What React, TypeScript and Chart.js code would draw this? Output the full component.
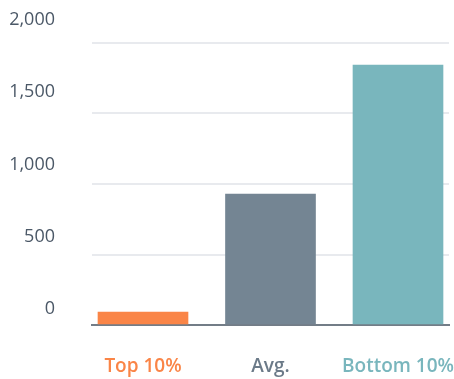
import React, { useEffect, useRef } from "react";
import { Chart, registerables } from "chart.js";

Chart.register(...registerables);

const categories = ["Top 10%", "Avg.", "Bottom 10%"];
const values = [92, 929, 1844];
const barColors = ["#fa8547", "#748593", "#79b6bd"];
const labelColors = ["#fa8547", "#6b7a88", "#79b6bd"];
const yTickValues = [0, 500, 1000, 1500, 2000];

const X_MIN = -0.4;
const X_MAX = 2.4;
const Y_MAX = (315 * 2000) / 282;
const Y2_MIN = -(16 * 2000) / 289;
const Y2_MAX = (299 * 2000) / 289;

export default function App() {
  const ref = useRef<HTMLCanvasElement | null>(null);
  useEffect(() => {
    if (!ref.current) return;
    const chart = new Chart(ref.current, {
      type: "bar",
      data: {
        datasets: [
          {
            data: values.map((v, i) => ({ x: i, y: v })),
            backgroundColor: barColors,
            borderWidth: 0,
            barThickness: 90,
            yAxisID: "y",
          },
        ],
      },
      options: {
        animation: false,
        responsive: false,
        maintainAspectRatio: false,
        layout: { padding: { top: 10, right: 5, bottom: 0, left: 0 } },
        plugins: { legend: { display: false }, tooltip: { enabled: false } },
        scales: {
          x: {
            type: "linear",
            offset: false,
            bounds: "data",
            min: X_MIN,
            max: X_MAX,
            grid: { display: false, drawTicks: false, offset: false },
            border: { display: true, color: "#737d87", width: 2 },
            afterBuildTicks: (s: any) => {
              s.min = X_MIN;
              s.max = X_MAX;
              s.ticks = categories.map((_, i) => ({ value: i }));
            },
            ticks: {
              autoSkip: false,
              maxRotation: 0,
              padding: 30,
              font: { family: "'Open Sans'", size: 19, weight: "600" },
              color: (ctx: any) => labelColors[Math.round(ctx.tick?.value ?? 0)] || "#6b7a88",
              callback: (v: any) => categories[Math.round(v)] ?? "",
            },
            afterFit: (s: any) => {
              s.height = 54;
              s.paddingLeft = 0;
              s.paddingRight = 0;
            },
          },
          y: {
            position: "left",
            bounds: "data",
            min: 0,
            max: Y_MAX,
            grid: {
              drawTicks: false,
              color: (ctx: any) => (ctx.tick && ctx.tick.value === 0 ? "rgba(0,0,0,0)" : "#e8eaee"),
              lineWidth: 2,
            },
            border: { display: false },
            afterBuildTicks: (s: any) => {
              s.min = 0;
              s.max = Y_MAX;
              s.ticks = yTickValues.map((v) => ({ value: v }));
            },
            ticks: { display: false },
            afterFit: (s: any) => {
              s.width = 0;
              s.paddingTop = 0;
              s.paddingBottom = 0;
            },
          },
          y2: {
            position: "left",
            bounds: "data",
            min: Y2_MIN,
            max: Y2_MAX,
            grid: { display: false, drawTicks: false },
            border: { display: false },
            afterBuildTicks: (s: any) => {
              s.min = Y2_MIN;
              s.max = Y2_MAX;
              s.ticks = yTickValues.map((v) => ({ value: v }));
            },
            ticks: {
              padding: 37,
              font: { family: "'Open Sans'", size: 18 },
              color: "#4b5867",
              callback: (v: any) => Number(v).toLocaleString("en-US"),
            },
            afterFit: (s: any) => {
              s.width = 92;
              s.paddingTop = 0;
              s.paddingBottom = 0;
            },
          },
        },
      },
    });
    return () => chart.destroy();
  }, []);
  return (
    <div style={{ position: "absolute", left: 0, top: 0, width: 454, height: 379, background: "#fff" }}>
      <canvas ref={ref} width={454} height={379} style={{ display: "block" }} />
    </div>
  );
}
